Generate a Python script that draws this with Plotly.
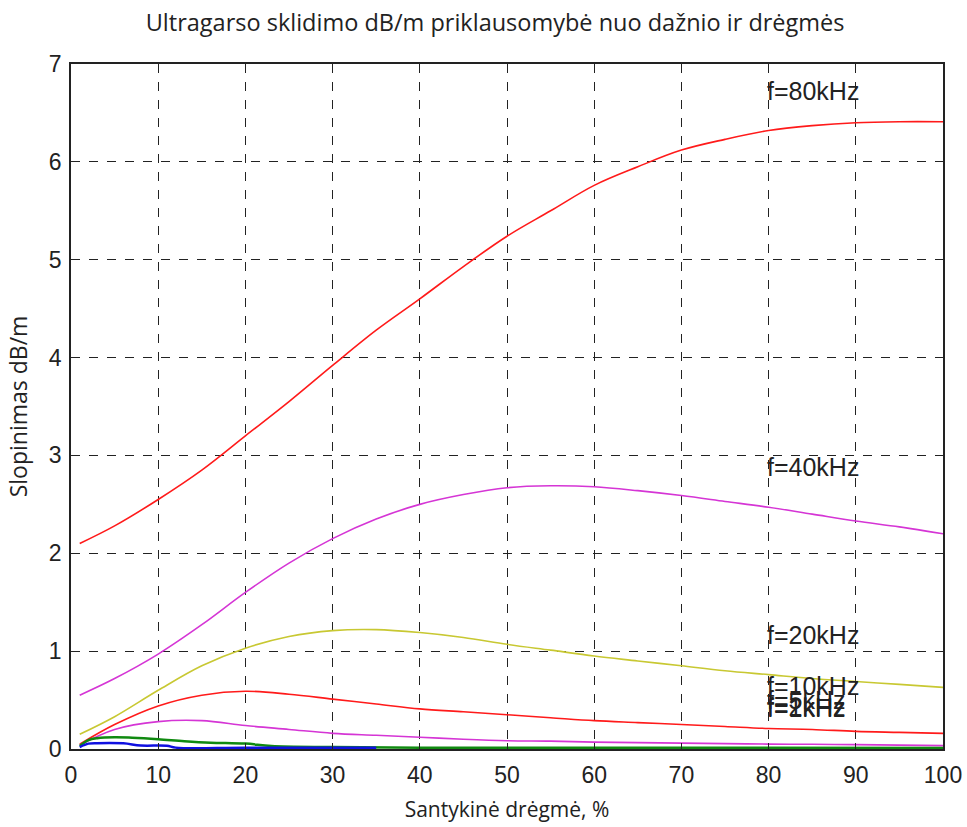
import plotly.graph_objects as go

# ---- data ----
x_std = [1, 5, 10, 15, 20, 25, 30, 35, 40, 45, 50, 55, 60, 65, 70, 75, 80, 85, 90, 95, 100]
f80 = [2.10, 2.28, 2.55, 2.85, 3.20, 3.55, 3.92, 4.28, 4.60, 4.93, 5.24, 5.50, 5.76, 5.95, 6.12, 6.23, 6.32, 6.37, 6.40, 6.41, 6.41]
f40 = [0.55, 0.72, 0.97, 1.27, 1.60, 1.90, 2.15, 2.35, 2.50, 2.60, 2.67, 2.69, 2.68, 2.64, 2.59, 2.53, 2.47, 2.40, 2.33, 2.27, 2.20]
f20 = [0.15, 0.33, 0.60, 0.85, 1.03, 1.15, 1.21, 1.22, 1.19, 1.14, 1.07, 1.01, 0.95, 0.90, 0.85, 0.80, 0.76, 0.72, 0.69, 0.66, 0.63]
f10 = [0.05, 0.25, 0.44, 0.55, 0.59, 0.56, 0.51, 0.46, 0.41, 0.38, 0.35, 0.32, 0.29, 0.27, 0.25, 0.23, 0.21, 0.20, 0.18, 0.17, 0.16]
f5 = [0.04, 0.20, 0.28, 0.29, 0.24, 0.20, 0.16, 0.14, 0.12, 0.10, 0.085, 0.08, 0.07, 0.065, 0.06, 0.055, 0.05, 0.048, 0.045, 0.04, 0.035]
x_f2 = [1, 2, 3, 5, 7, 10, 13, 16, 20, 23, 30, 40, 60, 100]
f2 = [0.03, 0.09, 0.11, 0.12, 0.115, 0.10, 0.08, 0.065, 0.055, 0.03, 0.02, 0.014, 0.012, 0.011]
x_f1 = [1, 2, 3, 6, 8, 11, 12, 20, 35]
f1 = [0.02, 0.055, 0.06, 0.058, 0.036, 0.033, 0.014, 0.013, 0.013]

labels = ["f=80kHz", "f=40kHz", "f=20kHz", "f=10kHz", "f=5kHz", "f=2kHz", "f=1kHz"]
label_x = 80
label_y = [6.72, 2.88, 1.16, 0.64, 0.50, 0.43, 0.42]

title = "Ultragarso sklidimo dB/m priklausomybė nuo dažnio ir drėgmės"
xlabel = "Santykinė drėgmė, %"
ylabel = "Slopinimas dB/m"

fig = go.Figure()
series = [
    (x_std, f80, "#FF1A1A", 1.6),
    (x_std, f40, "#D535D5", 1.6),
    (x_std, f20, "#C8C832", 1.6),
    (x_std, f10, "#FF1A1A", 1.6),
    (x_std, f5, "#D535D5", 1.6),
    (x_f2, f2, "#108A10", 2.5),
    (x_f1, f1, "#1010E0", 2.5),
]
for xs, ys, c, w in series:
    fig.add_trace(go.Scatter(x=xs, y=ys, mode="lines", line=dict(color=c, width=w),
                             showlegend=False, line_shape="spline"))

for t, yv in zip(labels, label_y):
    fig.add_annotation(x=label_x, y=yv, text=t, showarrow=False, xanchor="left",
                       yanchor="middle", xshift=-4,
                       font=dict(family="Liberation Sans, Arial", size=25, color="#222"))

axis_common = dict(
    showline=True, linecolor="#222", linewidth=1.5, mirror="allticks",
    ticks="inside", ticklen=6, tickcolor="#222", tickwidth=1.2,
    showgrid=True, gridcolor="#222", gridwidth=1, griddash="dash",
    zeroline=False, automargin=False,
    tickfont=dict(family="Liberation Sans, Arial", size=23, color="#222"),
)
fig.update_xaxes(range=[0, 100], tickvals=list(range(0, 101, 10)),
                 title=dict(text=xlabel,
                            font=dict(family="Open Sans", size=21, color="#222")),
                 ticklabelstandoff=5, **axis_common)
fig.update_yaxes(range=[0, 7], tickvals=list(range(0, 8)),
                 title=dict(text=ylabel,
                            font=dict(family="Open Sans", size=23, color="#222")),
                 ticklabelstandoff=3, **axis_common)

fig.update_layout(
    width=967, height=827,
    margin=dict(l=71, r=24, t=64, b=78),
    paper_bgcolor="white", plot_bgcolor="white",
    title=dict(text=title, x=0.512, xanchor="center", y=0.973, yanchor="middle",
               font=dict(family="Open Sans", size=23.5, color="#222")),
)
fig.write_html("out.html")
